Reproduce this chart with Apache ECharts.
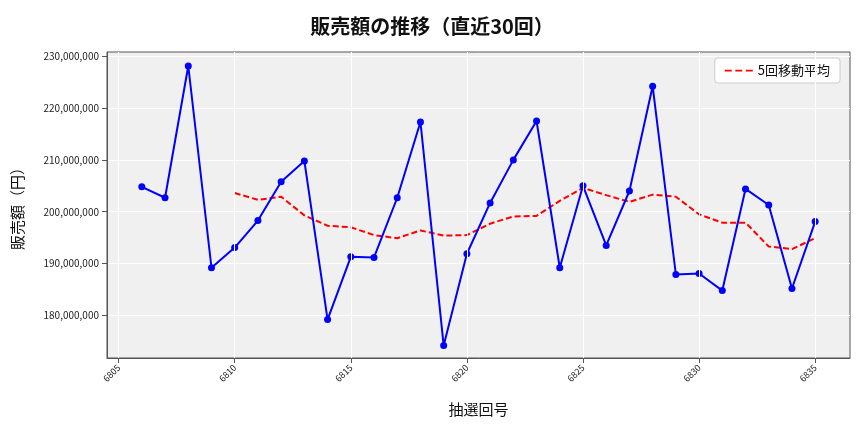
<!DOCTYPE html>
<html><head><meta charset="utf-8">
<script src="https://cdn.jsdelivr.net/npm/echarts@6/dist/echarts.min.js"></script>
<style>html,body{margin:0;padding:0;background:#fff}#c{width:864px;height:432px}</style>
</head><body><div id="c"></div>
<script>
var draws = [6806,6807,6808,6809,6810,6811,6812,6813,6814,6815,6816,6817,6818,6819,6820,6821,6822,6823,6824,6825,6826,6827,6828,6829,6830,6831,6832,6833,6834,6835];
var sales = [204.8,202.7,228.1,189.2,193.1,198.3,205.8,209.8,179.2,191.3,191.2,202.7,217.3,174.2,191.9,201.7,210.0,217.5,189.2,205.0,193.5,204.0,224.2,187.9,188.1,184.8,204.4,201.3,185.2,198.1];
var maDraws = [6810,6811,6812,6813,6814,6815,6816,6817,6818,6819,6820,6821,6822,6823,6824,6825,6826,6827,6828,6829,6830,6831,6832,6833,6834,6835];
var ma5 = [203.6,202.3,202.9,199.3,197.3,197.0,195.5,194.9,196.4,195.4,195.5,197.7,199.1,199.2,202.1,204.6,203.2,201.9,203.3,202.9,199.5,197.9,197.9,193.3,192.8,194.9];
var xTicks = [6805,6810,6815,6820,6825,6830,6835];
var yTicks = [180e6,190e6,200e6,210e6,220e6,230e6];

var font = '"Noto Sans CJK JP", "Noto Sans", sans-serif';
var chart = echarts.init(document.getElementById('c'));
chart.setOption({
  textStyle: {fontFamily: font},
  title: {text: '販売額の推移（直近30回）', left: 'center', top: 11,
    textStyle: {fontSize: 20, fontWeight: 'bold', color: '#111', fontFamily: font}},
  legend: {top: 58, right: 24, itemWidth: 28, itemHeight: 2, padding: [6, 10],
    borderColor: '#ccc', borderWidth: 1, borderRadius: 3, backgroundColor: '#fff',
    textStyle: {fontSize: 13, color: '#111'}, data: [{name: '5回移動平均', icon: 'path://M0,0H8V2H0Z M12,0H20V2H12Z M24,0H32V2H24Z'}]},
  grid: {left: 107, right: 14, top: 52, bottom: 74, show: true, backgroundColor: '#f0f0f0', borderWidth: 1, borderColor: '#555'},
  xAxis: {type: 'value', min: 6804.5, max: 6836.5, name: '抽選回号', nameLocation: 'middle', nameGap: 44,
    nameTextStyle: {fontSize: 15, color: '#111'},
    axisLine: {lineStyle: {color: '#555'}},
    axisTick: {customValues: xTicks, lineStyle: {color: '#555'}},
    axisLabel: {customValues: xTicks, rotate: 45, fontSize: 9, color: '#222', formatter: function (v) { return String(v); }},
    splitLine: {show: false}},
  yAxis: {type: 'value', min: 171.8e6, max: 230.8e6, name: '販売額（円）', nameLocation: 'middle', nameGap: 82,
    nameTextStyle: {fontSize: 15, color: '#111'},
    axisLine: {show: true, lineStyle: {color: '#555'}},
    axisTick: {show: true, customValues: yTicks, lineStyle: {color: '#555'}},
    axisLabel: {customValues: yTicks, fontSize: 10, color: '#222', formatter: function (v) { return v.toLocaleString('en-US'); }},
    splitLine: {show: true, lineStyle: {color: '#fff', width: 1}}},
  series: [
    {name: 'grid', type: 'line', data: [], z: 0, silent: true,
      markLine: {silent: true, symbol: 'none', label: {show: false}, animation: false,
        lineStyle: {color: '#fff', width: 1, type: 'solid'},
        data: xTicks.map(function (t) { return {xAxis: t}; })}},
    {name: '販売額', type: 'line', data: draws.map(function (d, i) { return [d, sales[i] * 1e6]; }), z: 3,
      symbol: 'circle', symbolSize: 7, itemStyle: {color: '#0000ff'}, lineStyle: {color: '#0000ff', width: 2}},
    {name: '5回移動平均', type: 'line', data: maDraws.map(function (d, i) { return [d, ma5[i] * 1e6]; }), z: 2,
      symbol: 'none', itemStyle: {color: '#ff0000'}, lineStyle: {color: '#ff0000', width: 2, type: [6, 3]}}
  ]
});
</script></body></html>
